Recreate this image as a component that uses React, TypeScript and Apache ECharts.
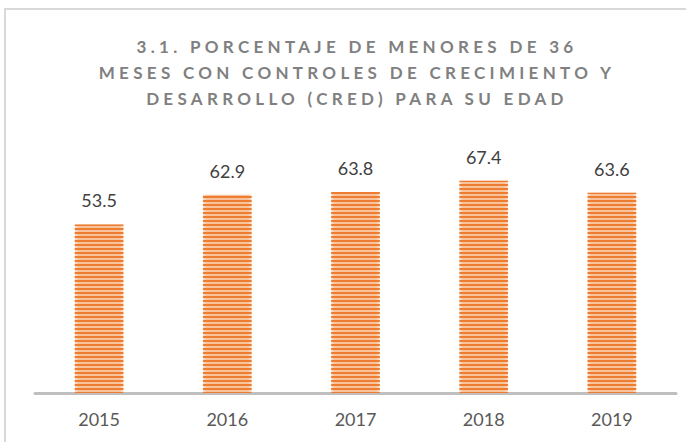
import React, { useEffect, useRef } from "react";
import * as echarts from "echarts";

const categories = ["2015", "2016", "2017", "2018", "2019"];
const values = [53.5, 62.9, 63.8, 67.4, 63.6];
const titleLines = [
  "3.1. PORCENTAJE DE MENORES DE 36",
  "MESES CON CONTROLES DE CRECIMIENTO Y",
  "DESARROLLO (CRED) PARA SU EDAD",
];

export default function App() {
  const ref = useRef<HTMLDivElement>(null);
  useEffect(() => {
    if (!ref.current) return;
    const chart = echarts.init(ref.current, null, { renderer: "svg" });
    chart.setOption({
      animation: false,
      aria: { enabled: true, decal: { show: true } },
      grid: { left: 35, right: 10, top: 141, bottom: 49 },
      graphic: [
        {
          type: "rect",
          shape: { x: 5, y: 9, width: 720, height: 480 },
          style: { fill: "none", stroke: "#d9d9d9", lineWidth: 2 },
          silent: true,
        },
        {
          type: "text",
          x: 357,
          y: 33,
          style: {
            text: titleLines.join("\n"),
            fill: "#808080",
            font: "bold 17px Lato",
            textAlign: "center",
            textVerticalAlign: "top",
            lineHeight: 26,
          },
        },
      ],
      xAxis: {
        type: "category",
        data: categories,
        axisLine: { show: true, lineStyle: { color: "#bfbfbf", width: 3 } },
        axisTick: { show: false },
        axisLabel: {
          color: "#595959",
          fontSize: 18,
          fontFamily: "Lato",
          margin: 17,
        },
      },
      yAxis: {
        type: "value",
        min: 0,
        max: 80,
        show: false,
        splitLine: { show: false },
      },
      series: [
        {
          type: "bar",
          data: values,
          barWidth: "38%",
          itemStyle: {
            color: {
              type: "linear",
              x: 0,
              y: 0,
              x2: 1,
              y2: 0,
              colorStops: [
                { offset: 0, color: "#fbe0cc" },
                { offset: 0.08, color: "#f7c29c" },
                { offset: 0.92, color: "#f7c29c" },
                { offset: 1, color: "#fbe0cc" },
              ],
            },
            decal: {
              symbol: "rect",
              symbolSize: 1,
              color: "#ed7d31",
              dashArrayX: [1, 0],
              dashArrayY: [2, 2],
              rotation: 0,
            },
          },
          label: {
            show: true,
            position: "top",
            distance: 15,
            color: "#404040",
            fontSize: 18,
            fontFamily: "Lato",
          },
        },
      ],
    });
    return () => chart.dispose();
  }, []);
  return (
    <>
      <style>{`#chartbox svg text[fill="#808080"], #chartbox svg text[fill="rgb(128,128,128)"] { letter-spacing: 4.3px; }`}</style>
      <div
        id="chartbox"
        ref={ref}
        style={{ position: "fixed", left: 0, top: 0, width: 686, height: 442, background: "#fff" }}
      />
    </>
  );
}
